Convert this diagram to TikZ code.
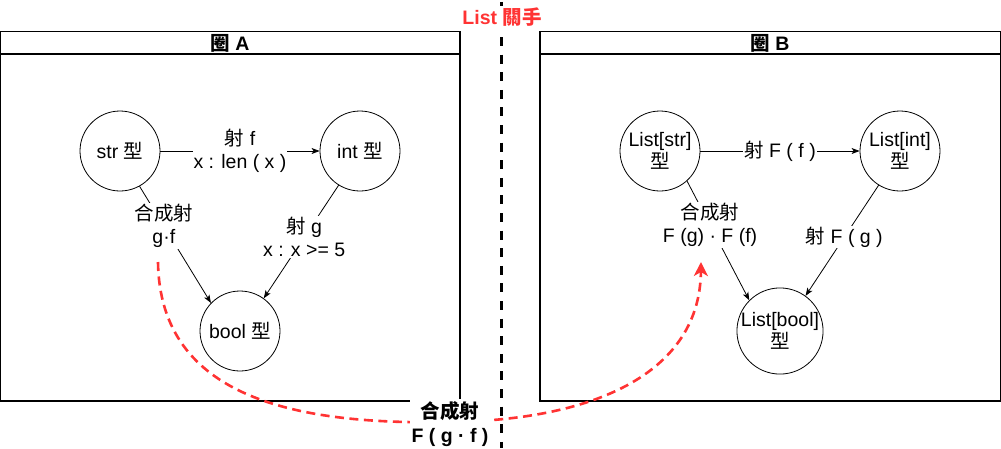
\documentclass[tikz,border=0pt]{standalone}
\usepackage{fontspec}
\setmainfont{Liberation Sans}
\newfontfamily\cjk{Noto Sans CJK TC}
\newcommand{\zh}[1]{{\cjk #1}}
\usetikzlibrary{arrows.meta}
\definecolor{fred}{RGB}{255,51,51}
\begin{document}
\begin{tikzpicture}[x=1pt,y=-1pt,
  every node/.style={font=\fontsize{19.5}{23}\selectfont},
  catbox/.style={draw,line width=1.3pt},
  circ/.style={circle,draw,line width=0.8pt,minimum size=80pt,inner sep=0pt,align=center,font=\fontsize{19.5}{22}\selectfont},
  lbl/.style={fill=white,align=center,inner sep=1pt},
  arr/.style={line width=0.8pt,-{Stealth[length=8pt,width=6pt,inset=2pt]}},
  redcurve/.style={draw=fred,line width=2.6pt,dash pattern=on 9pt off 5.5pt,-{Stealth[length=14pt,width=14pt,inset=4pt]}},
  vdash/.style={line width=3pt,dash pattern=on 9pt off 8.6pt,dash phase=15.8pt},
  title/.style={font=\fontsize{19.5}{23}\selectfont\bfseries}
]
\useasboundingbox (0,0) rectangle (1001,448);
% category boxes
\draw[catbox] (0.7,31.5) rectangle (460,401);
\draw[catbox] (0.7,54) -- (460,54);
\draw[catbox] (540,31.5) rectangle (1000.3,401);
\draw[catbox] (540,54) -- (1000.3,54);
\node[title] (ta) at (230,43) {\zh{圈} A};
\node[title] (tb) at (770,43) {\zh{圈} B};
% category A
\node[circ] (str) at (120,151) {str \zh{型}};
\node[circ] (int) at (360,151) {int \zh{型}};
\node[circ] (bool) at (240,331) {bool \zh{型}};
\draw[arr] (str) -- node[lbl] {\zh{射} f\\x : len ( x )} (int);
\draw[arr] (str.-61) -- node[lbl,pos=0.34] {\zh{合成射}\\g·f} (bool.136);
\draw[arr] (int.238) -- node[lbl,pos=0.46] {\zh{射} g\\x : x >= 5} (bool.54);
% category B
\node[circ] (lstr) at (660,151) {List[str]\\\zh{型}};
\node[circ] (lint) at (900,151) {List[int]\\\zh{型}};
\node[circ] (lbool) at (780,331) {List[bool]\\\zh{型}};
\draw[arr] (lstr) -- node[lbl] {\zh{射} F ( f )} (lint);
\draw[arr] (lstr.-48) -- node[lbl,pos=0.37] {\zh{合成射}\\F (g) · F (f)} (lbool.135);
\draw[arr] (lint.238) -- node[lbl,pos=0.47] {\zh{射} F ( g )} (lbool.54);
% functor curve
\coordinate (cs) at (158,262);
\coordinate (cm) at (450,422);
\coordinate (ce) at (701,262);
\draw[redcurve] (cs) .. controls (160,400) and (300,425) .. (cm)
  .. controls (600,420) and (700,370) .. (ce);
\node[lbl,font=\fontsize{19.5}{24}\selectfont\bfseries,inner sep=2pt] (gf) at (450,424) {\zh{合成射}\\F ( g · f )};
% divider
\coordinate (dtop) at (501,0);
\coordinate (dbot) at (501,448);
\draw[vdash] (dtop) -- (dbot);
\node[lbl,text=fred,font=\fontsize{19.5}{23}\selectfont\bfseries,inner sep=2pt] (fun) at (502,17) {List \zh{關手}};
\end{tikzpicture}
\end{document}
